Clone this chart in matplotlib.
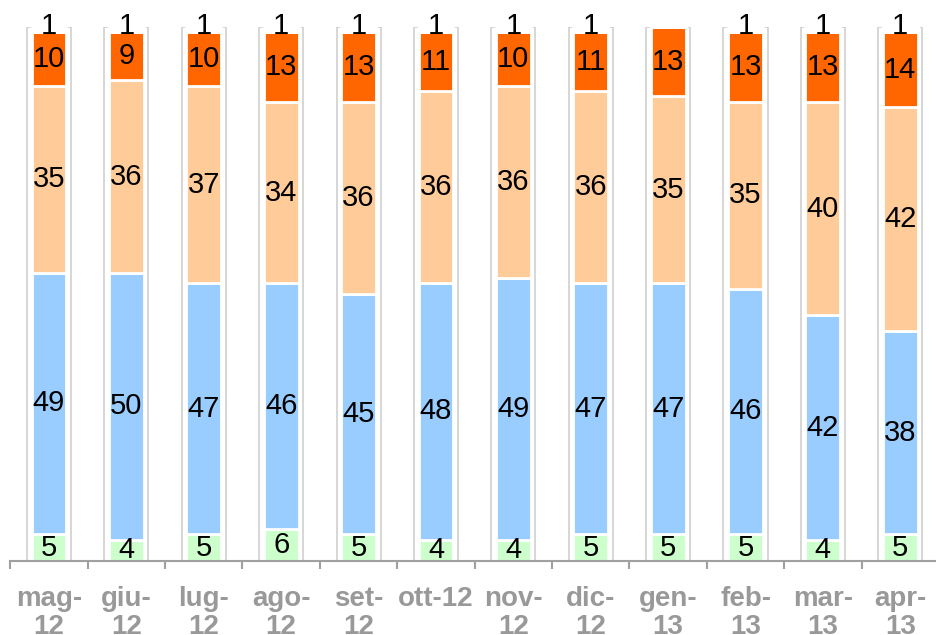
import matplotlib.pyplot as plt
import numpy as np

plt.rcParams['font.family'] = ['Liberation Sans', 'DejaVu Sans']

months = ['mag-\n12', 'giu-\n12', 'lug-\n12', 'ago-\n12', 'set-\n12', 'ott-12',
          'nov-\n12', 'dic-\n12', 'gen-\n13', 'feb-\n13', 'mar-\n13', 'apr-\n13']
green = [5, 4, 5, 6, 5, 4, 4, 5, 5, 5, 4, 5]
blue = [49, 50, 47, 46, 45, 48, 49, 47, 47, 46, 42, 38]
light = [35, 36, 37, 34, 36, 36, 36, 36, 35, 35, 40, 42]
dark = [10, 9, 10, 13, 13, 11, 10, 11, 13, 13, 13, 14]
top = [1, 1, 1, 1, 1, 1, 1, 1, 0, 1, 1, 1]

series = [green, blue, light, dark, top]
colors = ['#CCFFCC', '#99CCFF', '#FFCC99', '#FF6600', '#FFFFFF']

fig = plt.figure(figsize=(9.36, 6.35), dpi=100)
ax = fig.add_axes([10.3 / 936, (635 - 561) / 635, 928.7 / 936, 534 / 635])

x = np.arange(len(months))

# outer grey frame behind each bar
ax.bar(x, 100, width=0.57, color='white', edgecolor='#CFCFCF', linewidth=1.2, zorder=1)

bottom = np.zeros(len(months))
for vals, c in zip(series, colors):
    vals = np.array(vals)
    ax.bar(x, vals, width=0.45, bottom=bottom, color=c, edgecolor='white',
           linewidth=2, zorder=2)
    for xi, b, v in zip(x, bottom, vals):
        if v == 0:
            continue
        y = b + v / 2
        if c == '#FFFFFF':
            y += 0.7
        ax.text(xi, y, str(v), ha='center', va='center', fontsize=21,
                color='black', zorder=5)
    bottom += vals

ax.set_xlim(-0.5, len(months) - 0.5)
ax.set_ylim(0, 100)

for s in ['top', 'right', 'left']:
    ax.spines[s].set_visible(False)
ax.spines['bottom'].set_color('#A0A0A0')
ax.spines['bottom'].set_linewidth(1.5)
ax.spines['bottom'].set_zorder(6)
ax.set_yticks([])

ax.set_xticks(x)
ax.set_xticklabels(months, fontsize=20, fontweight='bold', color='#999999',
                   linespacing=1.08, va='top')
ax.tick_params(axis='x', which='major', length=0, pad=18)
ax.set_xticks(np.arange(-0.5, len(months), 1), minor=True)
ax.tick_params(axis='x', which='minor', length=6, width=1.5, color='#A0A0A0')

plt.savefig('out.png', dpi=100)
